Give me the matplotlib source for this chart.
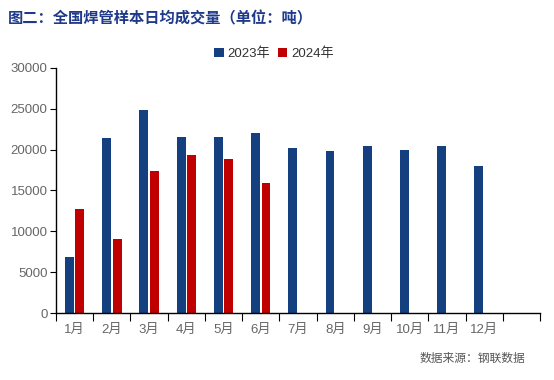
import matplotlib
matplotlib.use("Agg")
import matplotlib.pyplot as plt
import numpy as np

plt.rcParams['font.family'] = ['Liberation Sans', 'Noto Sans CJK SC', 'DejaVu Sans']

months = ["1月", "2月", "3月", "4月", "5月", "6月", "7月", "8月", "9月", "10月", "11月", "12月"]
v2023 = [6800, 21400, 24800, 21500, 21500, 22100, 20200, 19800, 20500, 20000, 20400, 18000]
v2024 = [12700, 9000, 17400, 19400, 18800, 15900]
yticks = [0, 5000, 10000, 15000, 20000, 25000, 30000]

fig = plt.figure(figsize=(5.54, 3.8), dpi=100)
ax = fig.add_axes([0.1011, 0.1763, 0.8736, 0.6448])

blue = "#15407F"
red = "#C00000"
w = 0.24
x23 = np.arange(len(v2023))
x24 = np.arange(len(v2024))
ax.bar(x23 - 0.14, v2023, width=w, color=blue, label="2023年")
ax.bar(x24 + 0.14, v2024, width=w, color=red, label="2024年")

ax.set_xlim(-0.5, 12.5)
ax.set_ylim(0, 30000)
ax.set_xticks(np.arange(-0.5, 13, 1))
ax.set_xticklabels([])
ax.set_xticks(np.arange(len(months)), minor=True)
ax.set_xticklabels(months, minor=True)
ax.tick_params(axis='x', which='major', length=6, direction='out', color='black')
ax.tick_params(axis='x', which='minor', length=0, pad=8, labelsize=9.5, labelcolor='#666666')
ax.set_yticks(yticks)
ax.set_yticklabels([str(v) for v in yticks])
ax.tick_params(axis='y', length=4, direction='out', labelsize=9.5, labelcolor='#666666', pad=2)

for s in ['top', 'right']:
    ax.spines[s].set_visible(False)
for s in ['left', 'bottom']:
    ax.spines[s].set_color('black')
    ax.spines[s].set_linewidth(1.0)

leg = fig.legend(loc='center', bbox_to_anchor=(0.495, 0.858), ncol=2, frameon=False,
                 fontsize=9.5, handlelength=0.7, handleheight=0.7, handletextpad=0.3,
                 columnspacing=0.6)
for t in leg.get_texts():
    t.set_color('#333333')

fig.text(0.014, 0.952, "图二：全国焊管样本日均成交量（单位：吨）", fontsize=11, fontweight='bold',
         color='#1F3A8A', family=['Noto Sans CJK SC'], va='center', ha='left')
fig.text(0.948, 0.057, "数据来源：钢联数据", fontsize=8.5, color='#555555',
         family=['Noto Sans CJK SC'], va='center', ha='right')

fig.savefig("out.png", dpi=100)
